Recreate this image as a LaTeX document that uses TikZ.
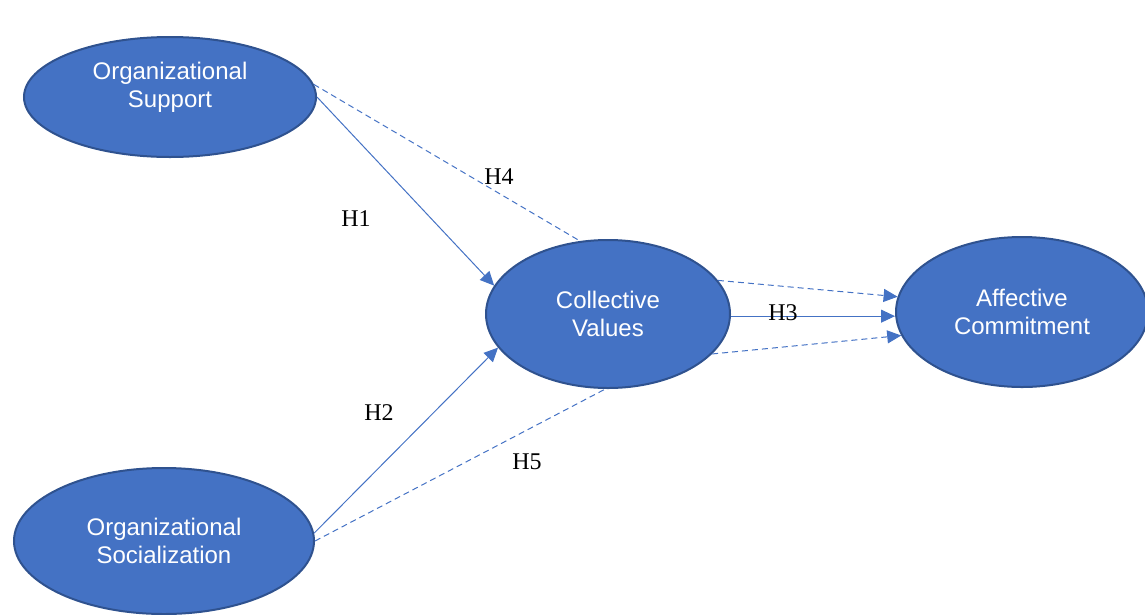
\documentclass[tikz,border=0pt]{standalone}
\usepackage{fontspec}
\setmainfont{Liberation Serif}
\setsansfont{Liberation Sans}
\usetikzlibrary{shapes.geometric,arrows.meta}
\definecolor{ovalfill}{HTML}{4472C4}
\definecolor{ovaledge}{HTML}{2F528F}
\definecolor{linkblue}{HTML}{4472C4}

\begin{document}
\begin{tikzpicture}[x=1pt, y=-1pt,
        construct/.style={ellipse, draw=ovaledge, fill=ovalfill, line width=2pt,
            text=white, align=center, font=\sffamily\fontsize{24}{28}\selectfont,
            minimum width=244pt, minimum height=148pt},
        solidarrow/.style={draw=linkblue, line width=1pt, -{Triangle[length=14pt,width=13pt]}},
        dashedline/.style={draw=linkblue, line width=1pt, dash pattern=on 6pt off 4pt},
        dashedarrow/.style={dashedline, -{Triangle[length=14pt,width=13pt]}},
        hyp/.style={font=\fontsize{24}{28}\selectfont}]
        \clip (0,0) rectangle (1145,614);

        \node[construct, minimum width=292pt, minimum height=120pt] (os) at (170,97) {Organizational\\Support\\[-4pt]\mbox{}};
        \node[construct, minimum width=300pt, minimum height=146pt] (osoc) at (164,541) {Organizational\\Socialization};
        \node[construct] (cv) at (608,314) {Collective\\Values};
        \node[construct, minimum width=252pt, minimum height=150pt] (ac) at (1022,312) {Affective\\Commitment};

        % direct paths
        \draw[solidarrow] (os.east) -- (cv.166);
        \draw[solidarrow] (osoc.3) -- (cv.-163);
        \draw[solidarrow] (cv.-1.5) -- (cv.-1.5 -| ac.west);

        % mediated paths
        \draw[dashedline] (os.5) -- (cv.111);
        \draw[dashedarrow] (cv.17) -- (ac.173);
        \draw[dashedline] (osoc.east) -- (cv.-92);
        \draw[dashedarrow] (cv.-21) -- (ac.-169);

        \node[hyp] (h1) at (356,219) {H1};
        \node[hyp] (h2) at (379,413) {H2};
        \node[hyp] (h3) at (783,313) {H3};
        \node[hyp] (h4) at (499,177) {H4};
        \node[hyp] (h5) at (527,462) {H5};
\end{tikzpicture}
\end{document}
